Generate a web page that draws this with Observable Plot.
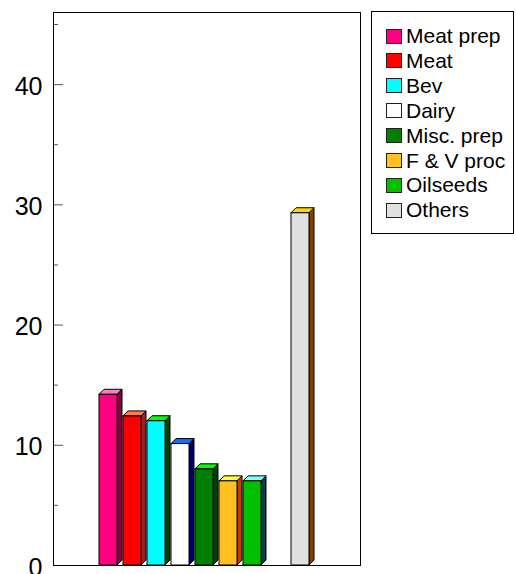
<!DOCTYPE html>
<html><head><meta charset="utf-8">
<script src="https://cdn.jsdelivr.net/npm/d3@7"></script>
<script src="https://cdn.jsdelivr.net/npm/@observablehq/plot@0.6"></script>
<style>
body{margin:0;background:#fff;font-family:"Liberation Sans",Arial,sans-serif;}
#wrap{position:relative;width:516px;height:574px;overflow:hidden;}
#legend{position:absolute;left:371px;top:11px;width:141px;height:221px;border:1px solid #000;background:#fff;}
.item{position:absolute;left:14px;height:25px;display:flex;align-items:center;font-size:21px;color:#000;white-space:nowrap;}
.sw{width:14px;height:13px;border:1.5px solid #222;margin-right:4px;flex:none;}
</style></head><body><div id="wrap"></div>
<script>
const categories = ["Meat prep","Meat","Bev","Dairy","Misc. prep","F & V proc","Oilseeds","Others"];
const values = [14.2, 12.4, 12.0, 10.1, 8.0, 7.0, 7.0, 29.3];
const yTicks = [0, 10, 20, 30, 40];
const yMinorTicks = [5, 15, 25, 35, 45];

const frontColors = ["#ff0080","#ff0000","#00ffff","#ffffff","#008000","#ffc020","#00c000","#e0e0e0"];
const topColors   = ["#ff80c0","#ff8040","#00ff00","#1070ff","#00ff00","#ffff40","#80ffff","#ffd700"];
const sideColors  = ["#800040","#a02020","#004000","#000066","#004000","#c04000","#004040","#804000"];

const data = categories.map((c, i) => ({category: c, value: values[i], k: i}));
const xDomain = [...categories.slice(0, 7), " ", categories[7]];
const depth = 5;

function faces(index, scales, vals) {
  const g = d3.create("svg:g");
  const bw = scales.x.bandwidth();
  for (const i of index) {
    const x1 = vals.x[i], x2 = x1 + bw;
    const yt = Math.min(vals.y1[i], vals.y2[i]), yb = Math.max(vals.y1[i], vals.y2[i]);
    const k = data[i].k;
    g.append("polygon")
      .attr("points", [[x2, yt], [x2 + depth, yt - depth], [x2 + depth, yb - depth], [x2, yb]].join(" "))
      .attr("fill", sideColors[k]).attr("stroke", "#000").attr("stroke-width", 1).attr("stroke-linejoin", "round");
    g.append("polygon")
      .attr("points", [[x1, yt], [x1 + depth, yt - depth], [x2 + depth, yt - depth], [x2, yt]].join(" "))
      .attr("fill", topColors[k]).attr("stroke", "#000").attr("stroke-width", 1).attr("stroke-linejoin", "round");
  }
  return g.node();
}

const chart = Plot.plot({
  width: 516,
  height: 574,
  marginLeft: 53,
  marginRight: 156,
  marginTop: 12,
  marginBottom: 9,
  style: {fontFamily: "'Liberation Sans', Arial, sans-serif", background: "transparent", overflow: "visible"},
  x: {type: "band", domain: xDomain, paddingInner: 0.25, paddingOuter: 2.02, align: 0.474, axis: null},
  y: {domain: [0, 46], axis: null},
  color: {domain: categories, range: frontColors},
  marks: [
    Plot.barY(data, {x: "category", y: "value", render: faces}),
    Plot.barY(data, {x: "category", y: "value", fill: "category", stroke: "#000", strokeWidth: 1}),
    Plot.ruleY(yTicks, {stroke: "#555", insetRight: 297}),
    Plot.ruleY(yMinorTicks, {stroke: "#555", insetRight: 302}),
    Plot.axisY({ticks: yTicks, tickSize: 0, tickPadding: 11, fontSize: 25, dy: 2, label: null, anchor: "left"}),
    Plot.frame({stroke: "#000"})
  ]
});

const wrap = document.getElementById("wrap");
wrap.appendChild(chart);
const legend = document.createElement("div");
legend.id = "legend";
categories.forEach((c, i) => {
  const item = document.createElement("div");
  item.className = "item";
  item.style.top = (11.5 + i * 24.9) + "px";
  const sw = document.createElement("div");
  sw.className = "sw";
  sw.style.background = frontColors[i];
  const t = document.createElement("span");
  t.textContent = c;
  item.appendChild(sw);
  item.appendChild(t);
  legend.appendChild(item);
});
wrap.appendChild(legend);
</script>
</body></html>
